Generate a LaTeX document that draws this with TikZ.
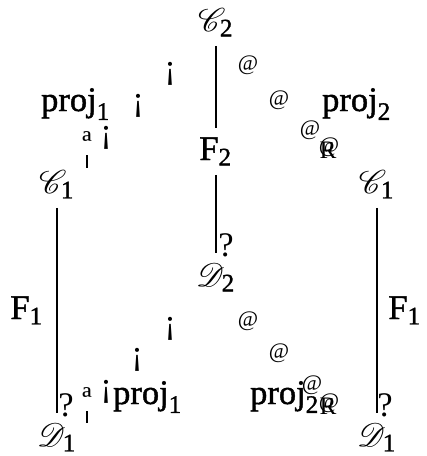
\documentclass[tikz,border=0pt,11pt]{standalone}
\usepackage{mathrsfs}
\usepackage{fontspec}
\setmainfont{Liberation Serif}[Scale=1.05]
\setmathrm{Liberation Serif}[Scale=1.05,FakeBold=1.2]
\begin{document}
\begin{tikzpicture}[x=0.3333pt,y=-0.3333pt,
  lbl/.style={inner sep=3pt,anchor=base},
  glyph/.style={inner sep=0pt},
  atg/.style={inner sep=0pt,font=\fontsize{7}{8}\selectfont},
  conn/.style={line width=0.85pt},
  stem/.style={line width=0.5pt}]
\useasboundingbox (0,0) rectangle (427,456);
% objects
\node[lbl] (C2) at (216,31) {$\mathscr{C}_{\mathrm{2}}$};
\node[lbl] (P1t) at (76,111) {$\mathrm{proj}_{\mathrm{1}}$};
\node[lbl] (P2t) at (357,111) {$\mathrm{proj}_{\mathrm{2}}$};
\node[lbl] (F2) at (216,160) {$\mathrm{F}_{\mathrm{2}}$};
\node[lbl] (C1l) at (57,193) {$\mathscr{C}_{\mathrm{1}}$};
\node[lbl] (C1r) at (377,193) {$\mathscr{C}_{\mathrm{1}}$};
\node[lbl] (D2) at (216,286) {$\mathscr{D}_{\mathrm{2}}$};
\node[lbl] (F1l) at (27,319) {$\mathrm{F}_{\mathrm{1}}$};
\node[lbl] (F1r) at (405,319) {$\mathrm{F}_{\mathrm{1}}$};
\node[lbl] (P1b) at (148,404) {$\mathrm{proj}_{\mathrm{1}}$};
\node[lbl] (P2b) at (285,404) {$\mathrm{proj}_{\mathrm{2}}$};
\node[lbl] (D1l) at (57,446) {$\mathscr{D}_{\mathrm{1}}$};
\node[lbl] (D1r) at (377,446) {$\mathscr{D}_{\mathrm{1}}$};
% vertical connectors
\draw[conn] (C2.south) -- (F2.north);
\draw[conn] (F2.south) -- (D2.north);
\draw[conn] (C1l.south) -- (D1l.north);
\draw[conn] (C1r.south) -- (D1r.north);
% vertical arrow tips
\node[glyph] (q1) at (226,245) {?};
\node[glyph] (q2) at (66,405) {?};
\node[glyph] (q3) at (385,405) {?};
% top-left diagonal glyphs
\node[glyph] (i1) at (170,74) {¡};
\node[glyph] (i2) at (138,106) {¡};
\node[glyph] (i3) at (106,138) {¡};
\node[glyph] (o1) at (87,143) {ª};
\coordinate (o1e) at (87,168);
\draw[stem] (o1.south) -- (o1e);
% bottom-left diagonal glyphs
\node[glyph] (i4) at (170,329) {¡};
\node[glyph] (i5) at (137,360) {¡};
\node[glyph] (i6) at (106,392) {¡};
\node[glyph] (o2) at (87,399) {ª};
\coordinate (o2e) at (87,423);
\draw[stem] (o2.south) -- (o2e);
% top-right diagonal glyphs
\node[atg] (a1) at (248,65) {@};
\node[atg] (a2) at (279,100) {@};
\node[atg] (a3) at (310,130) {@};
\node[glyph,font=\scriptsize] (r1) at (328,150) {R};
\node[atg] (r1a) at (329,147) {@};
% bottom-right diagonal glyphs
\node[atg] (a4) at (248,321) {@};
\node[atg] (a5) at (279,353) {@};
\node[atg] (a6) at (312,385) {@};
\node[glyph,font=\scriptsize] (r2) at (328,406) {R};
\node[atg] (r2a) at (329,403) {@};
\end{tikzpicture}
\end{document}
